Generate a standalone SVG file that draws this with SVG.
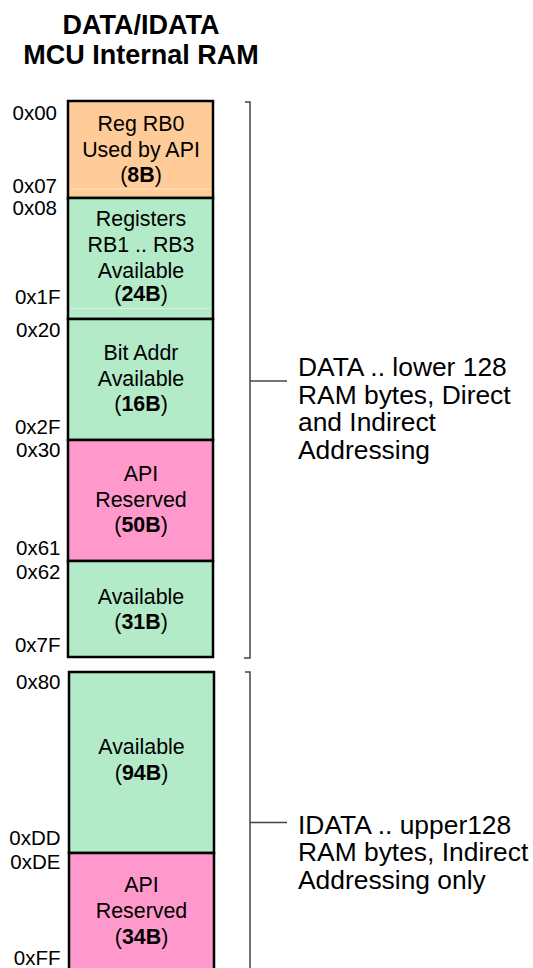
<svg xmlns="http://www.w3.org/2000/svg" width="533" height="968" viewBox="0 0 533 968">
<style>
text{font-family:"Liberation Sans",Arial,sans-serif;fill:#000}
.title{font-size:27px;font-weight:bold;text-anchor:middle}
.addr{font-size:20.5px;text-anchor:end}
.box{font-size:21.4px;text-anchor:middle}
.note{font-size:26.4px}
.b{font-weight:bold}
.blk{stroke:#000;stroke-width:2.5}
.org{fill:#FFCC99}
.grn{fill:#B3EBC8}
.pnk{fill:#FF99CC}
.sheen{stroke:#fff;stroke-opacity:0.45;stroke-width:1}
.br{fill:none;stroke:#444;stroke-width:1.5}
</style>
<g id="title">
<text class="title" x="141" y="33.5">DATA/IDATA</text>
<text class="title" x="141" y="63.5">MCU Internal RAM</text>
</g>
<g id="rb0">
<rect class="blk org" x="68" y="101" width="145" height="97"/>
<line class="sheen" x1="70" y1="189" x2="211" y2="189"/>
<text class="addr" x="57" y="120">0x00</text>
<text class="addr" x="57" y="193">0x07</text>
<text class="box" x="141" y="131">Reg RB0</text>
<text class="box" x="141" y="157">Used by API</text>
<text class="box" x="141" y="182">(<tspan class="b">8B</tspan>)</text>
</g>
<g id="rb13">
<rect class="blk grn" x="68" y="198" width="145" height="121"/>
<line class="sheen" x1="70" y1="308.5" x2="211" y2="308.5"/>
<text class="addr" x="57" y="215">0x08</text>
<text class="addr" x="60.5" y="303.5">0x1F</text>
<text class="box" x="141" y="226">Registers</text>
<text class="box" x="141" y="252">RB1 .. RB3</text>
<text class="box" x="141" y="278">Available</text>
<text class="box" x="141" y="301">(<tspan class="b">24B</tspan>)</text>
</g>
<g id="bitaddr">
<rect class="blk grn" x="68" y="319" width="145" height="121"/>
<text class="addr" x="60.5" y="337">0x20</text>
<text class="addr" x="60.5" y="433.5">0x2F</text>
<text class="box" x="141" y="360">Bit Addr</text>
<text class="box" x="141" y="386">Available</text>
<text class="box" x="141" y="410.5">(<tspan class="b">16B</tspan>)</text>
</g>
<g id="apires1">
<rect class="blk pnk" x="68" y="440" width="145" height="121"/>
<text class="addr" x="60.5" y="457">0x30</text>
<text class="addr" x="60.5" y="555">0x61</text>
<text class="box" x="141" y="481">API</text>
<text class="box" x="141" y="507">Reserved</text>
<text class="box" x="141" y="532">(<tspan class="b">50B</tspan>)</text>
</g>
<g id="avail31">
<rect class="blk grn" x="68" y="561" width="145" height="96"/>
<text class="addr" x="60.5" y="578.5">0x62</text>
<text class="addr" x="60.5" y="652">0x7F</text>
<text class="box" x="141" y="603.5">Available</text>
<text class="box" x="141" y="628.5">(<tspan class="b">31B</tspan>)</text>
</g>
<g id="avail94">
<rect class="blk grn" x="69" y="672" width="145" height="181"/>
<text class="addr" x="60.5" y="688.5">0x80</text>
<text class="addr" x="60.5" y="845">0xDD</text>
<text class="box" x="141.5" y="753.5">Available</text>
<text class="box" x="141.5" y="779.5">(<tspan class="b">94B</tspan>)</text>
</g>
<g id="apires2">
<rect class="blk pnk" x="69" y="853" width="145" height="130"/>
<text class="addr" x="60.5" y="868.5">0xDE</text>
<text class="addr" x="60.5" y="965">0xFF</text>
<text class="box" x="141.5" y="892">API</text>
<text class="box" x="141.5" y="917.5">Reserved</text>
<text class="box" x="141.5" y="943.5">(<tspan class="b">34B</tspan>)</text>
</g>
<g id="connectors">
<path class="br" d="M245,102 H250 V658 H244"/>
<line class="br" x1="250" y1="381" x2="287" y2="381"/>
<path class="br" d="M245,672 H250 V968"/>
<line class="br" x1="250" y1="822.5" x2="287" y2="822.5"/>
</g>
<g id="data-note">
<text class="note" x="298" y="376">DATA .. lower 128</text>
<text class="note" x="298" y="403.5">RAM bytes, Direct</text>
<text class="note" x="298" y="431">and Indirect</text>
<text class="note" x="298" y="458.5">Addressing</text>
</g>
<g id="idata-note">
<text class="note" x="298" y="833.5">IDATA .. upper128</text>
<text class="note" x="298" y="861">RAM bytes, Indirect</text>
<text class="note" x="298" y="888.5">Addressing only</text>
</g>
</svg>
